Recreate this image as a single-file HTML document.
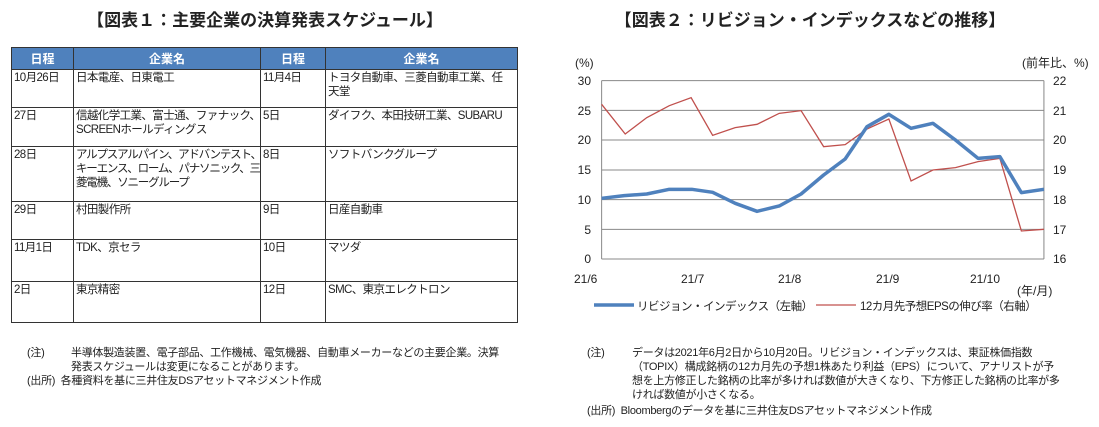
<!DOCTYPE html>
<html><head><meta charset="utf-8"><style>
body{margin:0;width:1099px;height:427px;background:#fff;font-family:"Liberation Sans","Noto Sans CJK JP",sans-serif;color:#222;position:relative;overflow:hidden}
.t{position:absolute;top:6px;font-size:17px;font-weight:bold;white-space:nowrap;transform:translateX(-50%)}
table{position:absolute;left:11px;top:47px;border-collapse:collapse;font-size:11.5px;table-layout:fixed;width:506px;letter-spacing:-0.6px}
td,th{border:1px solid #333;vertical-align:top;padding:1px 2px;line-height:14px;white-space:nowrap;overflow:hidden}
th{background:#4f81bd;color:#fff;height:21px;vertical-align:middle;padding:0;font-size:12px;letter-spacing:0}
.n{position:absolute;font-size:11px;line-height:14px;white-space:nowrap;letter-spacing:-0.3px}
</style></head><body>
<div class="t" style="left:265px">【図表１：主要企業の決算発表スケジュール】</div>
<div class="t" style="left:810px">【図表２：リビジョン・インデックスなどの推移】</div>
<table>
<colgroup><col style="width:62px"><col style="width:187px"><col style="width:65px"><col style="width:192px"></colgroup>
<tr><th>日程</th><th>企業名</th><th>日程</th><th>企業名</th></tr>
<tr style="height:38px"><td>10月26日</td><td>日本電産、日東電工</td><td>11月4日</td><td>トヨタ自動車、三菱自動車工業、任<br>天堂</td></tr>
<tr style="height:39px"><td>27日</td><td>信越化学工業、富士通、ファナック、<br>SCREENホールディングス</td><td>5日</td><td>ダイフク、本田技研工業、SUBARU</td></tr>
<tr style="height:55px"><td>28日</td><td style="letter-spacing:-1.2px">アルプスアルパイン、アドバンテスト、<br>キーエンス、ローム、パナソニック、三<br>菱電機、ソニーグループ</td><td>8日</td><td>ソフトバンクグループ</td></tr>
<tr style="height:38px"><td>29日</td><td>村田製作所</td><td>9日</td><td>日産自動車</td></tr>
<tr style="height:42px"><td>11月1日</td><td>TDK、京セラ</td><td>10日</td><td>マツダ</td></tr>
<tr style="height:41px"><td>2日</td><td>東京精密</td><td>12日</td><td>SMC、東京エレクトロン</td></tr>
</table>
<svg style="position:absolute;left:0;top:0" width="1099" height="427">
<g transform="translate(560,50) scale(0.3469,0.3333)">
<g stroke="#888" stroke-width="1">
<line x1="120" y1="92" x2="1395" y2="92" vector-effect="non-scaling-stroke"/>
<line x1="120" y1="181" x2="1395" y2="181" vector-effect="non-scaling-stroke"/>
<line x1="120" y1="270" x2="1395" y2="270" vector-effect="non-scaling-stroke"/>
<line x1="120" y1="360" x2="1395" y2="360" vector-effect="non-scaling-stroke"/>
<line x1="120" y1="449" x2="1395" y2="449" vector-effect="non-scaling-stroke"/>
<line x1="120" y1="538" x2="1395" y2="538" vector-effect="non-scaling-stroke"/>
<line x1="120" y1="627" x2="1395" y2="627" vector-effect="non-scaling-stroke"/>
<line x1="120" y1="92" x2="120" y2="627" vector-effect="non-scaling-stroke"/>
<line x1="1395" y1="92" x2="1395" y2="627" vector-effect="non-scaling-stroke"/>
</g>
<polyline fill="none" stroke="#c0504d" stroke-width="1.3" vector-effect="non-scaling-stroke" points="120,163 188,252 250,203 315,167 378,143 440,256 505,233 568,223 632,190 695,182 760,290 822,284 885,237 948,207 1012,393 1075,360 1140,353 1205,335 1268,325 1330,543 1395,538"/>
<polyline fill="none" stroke="#4f81bd" stroke-width="3.5" vector-effect="non-scaling-stroke" stroke-linejoin="round" points="120,445 185,437 250,432 315,418 380,418 440,427 505,460 568,484 632,468 695,432 760,375 822,327 885,230 948,193 1012,235 1075,220 1140,270 1205,325 1268,320 1330,428 1395,418"/>
</g>
<g font-size="12" fill="#222" font-family="Liberation Sans,Noto Sans CJK JP,sans-serif">
<text x="575" y="67">(%)</text>
<text x="1022" y="67">(前年比、%)</text>
<g text-anchor="end">
<text x="591" y="85">30</text><text x="591" y="115">25</text><text x="591" y="144">20</text><text x="591" y="174">15</text><text x="591" y="204">10</text><text x="591" y="234">5</text><text x="591" y="263">0</text>
</g>
<g>
<text x="1053" y="85">22</text><text x="1053" y="115">21</text><text x="1053" y="144">20</text><text x="1053" y="174">19</text><text x="1053" y="204">18</text><text x="1053" y="234">17</text><text x="1053" y="263">16</text>
</g>
<text x="574" y="283">21/6</text><text x="681" y="283">21/7</text><text x="778" y="283">21/8</text><text x="876" y="283">21/9</text><text x="970" y="283">21/10</text>
<text x="1017" y="295">(年/月)</text>
<line x1="594" y1="305" x2="634" y2="305" stroke="#4f81bd" stroke-width="3.5"/>
<text x="637" y="310" font-size="11.5" letter-spacing="-0.5">リビジョン・インデックス（左軸）</text>
<line x1="816" y1="305" x2="856" y2="305" stroke="#c0504d" stroke-width="1.3"/>
<text x="860" y="310" font-size="11.5" letter-spacing="-0.5">12カ月先予想EPSの伸び率（右軸）</text>
</g>
</svg>
<div class="n" style="left:27px;top:346px">(注)</div>
<div class="n" style="left:71px;top:346px">半導体製造装置、電子部品、工作機械、電気機器、自動車メーカーなどの主要企業。決算<br>発表スケジュールは変更になることがあります。</div>
<div class="n" style="left:27px;top:374px">(出所)&nbsp; 各種資料を基に三井住友DSアセットマネジメント作成</div>
<div class="n" style="left:587px;top:346px">(注)</div>
<div class="n" style="left:632px;top:346px">データは2021年6月2日から10月20日。リビジョン・インデックスは、東証株価指数<br>（TOPIX）構成銘柄の12カ月先の予想1株あたり利益（EPS）について、アナリストが予<br>想を上方修正した銘柄の比率が多ければ数値が大きくなり、下方修正した銘柄の比率が多<br>ければ数値が小さくなる。</div>
<div class="n" style="left:587px;top:404px">(出所)&nbsp; Bloombergのデータを基に三井住友DSアセットマネジメント作成</div>
</body></html>
